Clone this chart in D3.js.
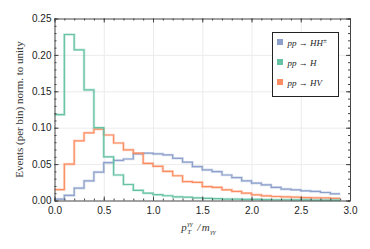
<!DOCTYPE html>
<html>
<head>
<meta charset="utf-8">
<script src="https://cdn.jsdelivr.net/npm/d3@7"></script>
<style>
  body { margin: 0; background: #fff; }
  .axis path, .axis line { stroke: #444; }
  .axis text { font-family: "Liberation Sans", Arial, sans-serif; font-size: 10px; fill: #222; }
  .grid line { stroke: #ececec; }
  .grid path { display: none; }
  .serif { font-family: "Liberation Serif", "Times New Roman", serif; font-style: italic; fill: #333; }
</style>
</head>
<body>
<svg class="chart"></svg>
<script>
// left edges of the 0.1 wide bins
var binLeft = [0.0, 0.1, 0.2, 0.3, 0.4, 0.5, 0.6, 0.7, 0.8, 0.9,
               1.0, 1.1, 1.2, 1.3, 1.4, 1.5, 1.6, 1.7, 1.8, 1.9,
               2.0, 2.1, 2.2, 2.3, 2.4, 2.5, 2.6, 2.7, 2.8];
var binWidth = 0.1;

var valsHHpm = [0.002, 0.007, 0.017, 0.027, 0.039, 0.052, 0.055, 0.057, 0.064, 0.065,
                0.064, 0.0626, 0.058, 0.0526, 0.0466, 0.042, 0.0397, 0.035, 0.0315, 0.027,
                0.0238, 0.0215, 0.018, 0.0156, 0.0147, 0.0133, 0.0124, 0.011, 0.0092];
var valsH = [0.118, 0.228, 0.207, 0.152, 0.100, 0.060, 0.035, 0.022, 0.014, 0.010,
             0.008, 0.0065, 0.005, 0.0045, 0.0035, 0.003, 0.0025, 0.002, 0.002, 0.0015,
             0.0015, 0.0012, 0.001, 0.001, 0.0008, 0.0008, 0.0006, 0.0005, 0.0005];
var valsHV = [0.015, 0.050, 0.082, 0.093, 0.098, 0.090, 0.079, 0.0695, 0.065, 0.051,
              0.047, 0.040, 0.034, 0.026, 0.025, 0.019, 0.018, 0.0147, 0.0124, 0.010,
              0.0078, 0.0064, 0.0055, 0.005, 0.0046, 0.004, 0.0037, 0.0035, 0.003];

var xTicks = [0.0, 0.5, 1.0, 1.5, 2.0, 2.5, 3.0];
var yTicks = [0.00, 0.05, 0.10, 0.15, 0.20, 0.25];

var colors = { HHpm: '#8da0cb', H: '#66c2a5', HV: '#fc8d62' };
var drawOrder = ['HHpm', 'HV', 'H'];
var allVals = { HHpm: valsHHpm, H: valsH, HV: valsHV };

var margin = {top: 18.5, right: 20, bottom: 48.5, left: 54.5},
    width = 370 - margin.left - margin.right,
    height = 249 - margin.top - margin.bottom;

var x = d3.scaleLinear().domain([0, 3]).range([0, width]);
var y = d3.scaleLinear().domain([0, 0.25]).range([height, 0]);

var svg = d3.select(".chart")
    .attr("width", 370)
    .attr("height", 249);

var chart = svg.append("g")
    .attr("transform", "translate(" + margin.left + "," + margin.top + ")");

// grid
chart.append("g")
    .attr("class", "grid")
    .attr("transform", "translate(0," + height + ")")
    .call(d3.axisBottom(x).tickValues(xTicks.slice(1, -1)).tickSize(-height).tickFormat(""));
chart.append("g")
    .attr("class", "grid")
    .call(d3.axisLeft(y).tickValues(yTicks.slice(1, -1)).tickSize(-width).tickFormat(""));

// histograms
var line = d3.line()
    .x(function(d) { return x(d[0]); })
    .y(function(d) { return y(d[1]); })
    .curve(d3.curveStepAfter);

drawOrder.forEach(function(name) {
  var v = allVals[name];
  var pts = binLeft.map(function(b, i) { return [b, v[i]]; });
  pts.push([binLeft[binLeft.length - 1] + binWidth, v[v.length - 1]]);
  chart.append("path")
      .datum(pts)
      .attr("fill", "none")
      .attr("stroke", colors[name])
      .attr("stroke-opacity", 0.35)
      .attr("stroke-width", 2.6)
      .attr("d", line);
  chart.append("path")
      .datum(pts)
      .attr("fill", "none")
      .attr("stroke", colors[name])
      .attr("stroke-width", 1.2)
      .attr("d", line);
});

// frame with inward ticks
var xMinor = d3.range(0, 31).map(function(i) { return i / 10; });
var yMinor = d3.range(0, 26).map(function(i) { return i / 100; });

function frame(axisFn, scale, major, minor, transform, labels) {
  var g = chart.append("g").attr("class", "axis").attr("transform", transform);
  g.call(axisFn(scale).tickValues(minor).tickSize(-2).tickFormat(""));
  var gm = chart.append("g").attr("class", "axis").attr("transform", transform);
  gm.call(axisFn(scale).tickValues(major).tickSize(-4).tickPadding(labels ? labels.pad : 0)
      .tickFormat(labels ? labels.fmt : ""));
  gm.select(".domain").remove();
}

frame(d3.axisBottom, x, xTicks, xMinor, "translate(0," + height + ")", {pad: 6, fmt: d3.format(".1f")});
frame(d3.axisTop, x, xTicks, xMinor, "translate(0,0)", null);
frame(d3.axisLeft, y, yTicks, yMinor, "translate(0,0)", {pad: 3, fmt: d3.format(".2f")});
frame(d3.axisRight, y, yTicks, yMinor, "translate(" + width + ",0)", null);

// axis labels
svg.append("text")
    .attr("transform", "translate(19," + (margin.top + height / 2) + ") rotate(-90)")
    .attr("text-anchor", "middle")
    .attr("dy", "0.35em")
    .style("font-family", "'Liberation Serif', 'Times New Roman', serif")
    .style("font-size", "11px")
    .style("fill", "#333")
    .text("Events (per bin) norm. to unity");

// x label: p_T^{γγ} / m_{γγ}, pieces placed side by side
var xl = svg.append("g").attr("transform", "translate(" + (margin.left + width / 2 - 21) + ",231)");
var xlParts = [
  {t: "p", dx: 0, dy: 0, size: 11},
  {t: "γγ", dx: 6, dy: -5, size: 7},
  {t: "T", dx: 6, dy: 2.5, size: 7},
  {t: "/", dx: 16, dy: 0, size: 11},
  {t: "m", dx: 20.5, dy: 0, size: 11},
  {t: "γγ", dx: 29, dy: 2.5, size: 7}
];
xl.selectAll("text")
    .data(xlParts)
  .enter().append("text")
    .attr("class", "serif")
    .attr("x", function(d) { return d.dx; })
    .attr("y", function(d) { return d.dy; })
    .style("font-size", function(d) { return d.size + "px"; })
    .text(function(d) { return d.t; });

// legend
var legendLabels = [
  {key: 'HHpm', main: 'pp → HH', sup: '±'},
  {key: 'H', main: 'pp → H', sup: ''},
  {key: 'HV', main: 'pp → HV', sup: ''}
];

var legend = svg.append("g").attr("transform", "translate(272.5,32.5)");
legend.append("rect")
    .attr("width", 66)
    .attr("height", 64)
    .attr("fill", "#fff")
    .attr("stroke", "#222")
    .attr("stroke-width", 1);

var item = legend.selectAll("g.item")
    .data(legendLabels)
  .enter().append("g")
    .attr("class", "item")
    .attr("transform", function(d, i) { return "translate(0," + (10 + i * 20) + ")"; });

item.append("rect")
    .attr("x", 4.5)
    .attr("y", -3.5)
    .attr("width", 6)
    .attr("height", 6)
    .attr("fill", function(d) { return colors[d.key]; });

var lt = item.append("text")
    .attr("x", 15)
    .attr("dy", "0.35em")
    .attr("class", "serif")
    .style("font-size", "9px")
    .style("fill", "#222");
lt.append("tspan").text(function(d) { return d.main; });
lt.append("tspan").attr("dy", "-3").style("font-size", "7px").text(function(d) { return d.sup; });
</script>
</body>
</html>
